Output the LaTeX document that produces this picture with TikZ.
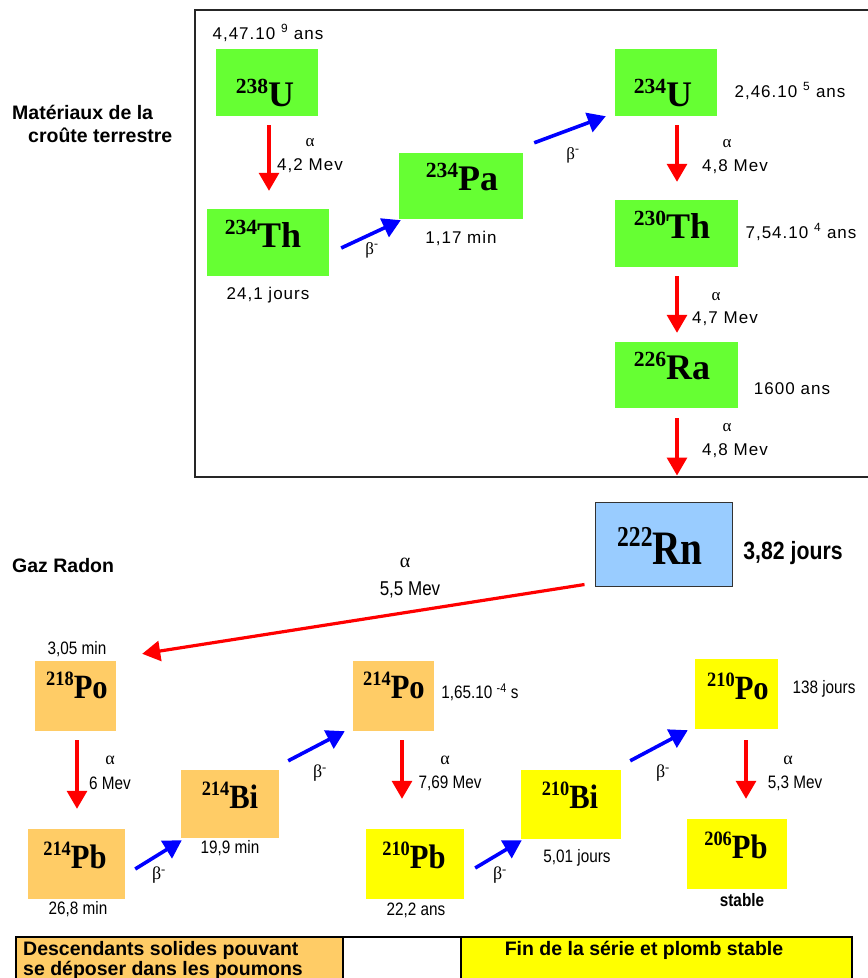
\documentclass[tikz,border=0pt]{standalone}
\usepackage{fontspec}
\setmainfont{Liberation Sans}
\newfontfamily\narrowfont{Liberation Sans}[FakeStretch=0.85]
\newfontfamily\spacedfont{Liberation Sans}[LetterSpace=6]
\newfontfamily\isofont{Liberation Serif}
\newfontfamily\isonarrow{Liberation Serif}[FakeStretch=0.9]
\newfontfamily\rnfont{Liberation Serif}[FakeStretch=0.82]
\usetikzlibrary{arrows.meta}
\definecolor{isogreen}{HTML}{66FF33}
\definecolor{isoorange}{HTML}{FFCC66}
\definecolor{isoyellow}{HTML}{FFFF00}
\definecolor{rnblue}{HTML}{99CCFF}
\newcommand{\nuc}[2]{\raisebox{.36em}{\scalebox{.6}{#1}}#2}
\newcommand{\alp}{{\isofont α}}
\newcommand{\bet}{{\isofont β\textsuperscript{-}}}

\begin{document}
\begin{tikzpicture}[x=1pt,y=-1pt,
    isobox/.style={inner sep=0pt},
    iso/.style={inner sep=0pt, anchor=base, font=\isofont\bfseries\fontsize{36}{36}\selectfont},
    isolow/.style={inner sep=0pt, anchor=base, font=\isonarrow\bfseries\fontsize{34}{34}\selectfont},
    lbl/.style={inner sep=0pt, font=\spacedfont\fontsize{17}{19}\selectfont},
    lbllow/.style={inner sep=0pt, font=\narrowfont\fontsize{18}{20}\selectfont},
    head/.style={inner sep=0pt, anchor=base west, font=\bfseries\fontsize{19.5}{23}\selectfont},
    adecay/.style={draw=red, line width=3.2pt, -{Triangle[length=18pt,width=20pt]}, shorten <=9pt},
    bdecay/.style={draw=blue, line width=3.6pt, -{Triangle[length=18pt,width=20pt]}}]
\useasboundingbox (0,0) rectangle (868,978);
\clip (0,0) rectangle (868,978);

% earth crust frame
\draw[line width=1.4pt, black!85] (195,10) rectangle (870,477);

% boxes
\foreach \name/\x/\y/\w/\h/\col in {
    u238/267/82.5/102/67/isogreen,
    th234/268/242.5/122/67/isogreen,
    pa234/461/186/124/66/isogreen,
    u234/666/82.5/102/67/isogreen,
    th230/676.5/233.5/123/67/isogreen,
    ra226/676.5/375/123/66/isogreen,
    po218/75.5/696/81/70/isoorange,
    bi214/230/804/98/68/isoorange,
    po214/393.5/696/81/70/isoorange,
    pb214/76.5/864/97/70/isoorange,
    pb210/415/864/98/70/isoyellow,
    bi210/571/804.5/100/69/isoyellow,
    po210/736.5/694/83/70/isoyellow,
    pb206/737/854/100/70/isoyellow}
  \node[isobox, fill=\col, minimum width=\w pt, minimum height=\h pt] (\name) at (\x,\y) {};
\node[isobox, fill=rnblue, draw=black!80, line width=1pt, minimum width=137pt, minimum height=84pt] (rn222) at (663.5,544) {};

% isotope names
\foreach \x/\y/\m/\el in {265/106/238/U, 263/247/234/Th, 462/190/234/Pa,
    663/106/234/U, 672/238/230/Th, 672/379/226/Ra}
  \node[iso] (n\m\el) at (\x,\y) {\nuc{\m}{\el}};
\foreach \x/\y/\m/\el in {77/698/218/Po, 230/808/214/Bi, 394/698/214/Po,
    75/868/214/Pb, 414/868/210/Pb, 570/808/210/Bi, 738/699/210/Po, 736/858/206/Pb}
  \node[isolow] (n\m\el) at (\x,\y) {\nuc{\m}{\el}};
\node[inner sep=0pt, anchor=base, font=\rnfont\bfseries\fontsize{48}{48}\selectfont] (n222Rn) at (660,564) {\nuc{222}{Rn}};

% alpha decays
\draw[adecay, shorten >=18pt] ([xshift=2pt]u238.south) -- ([xshift=1pt]th234.north);
\draw[adecay, shorten >=18pt] ([xshift=11pt]u234.south) -- ([xshift=.5pt]th230.north);
\draw[adecay, shorten >=9pt] ([xshift=.5pt]th230.south) -- ([xshift=.5pt]ra226.north);
\draw[adecay, shorten <=10pt, shorten >=26pt] ([xshift=.5pt]ra226.south) -- ([xshift=13.5pt]rn222.north);
\draw[adecay, shorten <=0pt] ([shift={(-10pt,2pt)}]rn222.south west) -- ([shift={(26pt,7pt)}]po218.north east);
\draw[adecay, shorten >=20pt] ([xshift=1.5pt]po218.south) -- ([xshift=.5pt]pb214.north);
\draw[adecay, shorten >=30pt] ([xshift=8.5pt]po214.south) -- ([xshift=-13pt]pb210.north);
\draw[adecay, shorten <=11pt, shorten >=20pt] ([xshift=9.5pt]po210.south) -- ([xshift=9pt]pb206.north);

% beta decays
\draw[bdecay] ([shift={(12pt,-5.5pt)}]th234.east) -- ([shift={(2pt,-1pt)}]pa234.south west);
\draw[bdecay] ([shift={(11pt,10pt)}]pa234.north east) -- ([xshift=-9pt]u234.south west);
\draw[bdecay] ([shift={(10pt,-5pt)}]pb214.east) -- ([shift={(1pt,-2pt)}]bi214.south west);
\draw[bdecay] ([shift={(9pt,9pt)}]bi214.north east) -- ([xshift=-8pt]po214.south west);
\draw[bdecay] ([shift={(11pt,-4pt)}]pb210.east) -- ([shift={(1pt,-1pt)}]bi210.south west);
\draw[bdecay] ([shift={(9pt,9pt)}]bi210.north east) -- ([shift={(-7pt,-1pt)}]po210.south west);

% decay labels
\node[lbl] (a1) at (310,143) {\alp};
\node[lbl] (e1) at (310,166) {4,2 Mev};
\node[lbl] (b1) at (372,250) {\bet};
\node[lbl] (b2) at (573,155) {\bet};
\node[lbl] (a2) at (727,144) {\alp};
\node[lbl] (e2) at (735,167) {4,8 Mev};
\node[lbl] (a3) at (716,297) {\alp};
\node[lbl] (e3) at (725,319) {4,7 Mev};
\node[lbl] (a4) at (727,428) {\alp};
\node[lbl] (e4) at (735,451) {4,8 Mev};
\node[lbllow, font=\narrowfont\fontsize{20}{22}\selectfont] (a5) at (405,563) {\alp};
\node[lbllow, font=\narrowfont\fontsize{20}{22}\selectfont] (e5) at (410,590) {5,5 Mev};
\node[lbllow] (a6) at (110,760) {\alp};
\node[lbllow] (e6) at (110,783) {6 Mev};
\node[lbllow] (b3) at (159,875) {\bet};
\node[lbllow] (b4) at (320,773) {\bet};
\node[lbllow] (a7) at (445,760) {\alp};
\node[lbllow] (e7) at (450,783) {7,69 Mev};
\node[lbllow] (b5) at (500,875) {\bet};
\node[lbllow] (b6) at (663,773) {\bet};
\node[lbllow] (a8) at (788,760) {\alp};
\node[lbllow] (e8) at (795,783) {5,3 Mev};

% half-lives
\node[lbl] (t1) at (268,33) {4,47.10 \textsuperscript{9} ans};
\node[lbl] (t2) at (268,295) {24,1 jours};
\node[lbl] (t3) at (461,238) {1,17 min};
\node[lbl] (t4) at (790,91) {2,46.10 \textsuperscript{5} ans};
\node[lbl] (t5) at (801,232) {7,54.10 \textsuperscript{4} ans};
\node[lbl] (t6) at (792,389) {1600 ans};
\node[inner sep=0pt, font=\narrowfont\bfseries\fontsize{25}{27}\selectfont] (t7) at (793,553) {3,82 jours};
\node[lbllow] (t8) at (77,649) {3,05 min};
\node[lbllow] (t9) at (78,909) {26,8 min};
\node[lbllow] (t10) at (230,848) {19,9 min};
\node[lbllow] (t11) at (480,692) {1,65.10 \textsuperscript{-4} s};
\node[lbllow] (t12) at (416,910) {22,2 ans};
\node[lbllow] (t13) at (577,858) {5,01 jours};
\node[lbllow] (t14) at (824,689) {138 jours};
\node[lbllow, font=\narrowfont\bfseries\fontsize{18}{20}\selectfont] (t15) at (742,900) {stable};

% headings
\node[head] (mat1) at (12,119) {Matériaux de la};
\node[head] (mat2) at (28,142) {croûte terrestre};
\node[head] (gaz) at (12,572) {Gaz Radon};

% legend
\draw[line width=1.2pt, fill=isoorange] (16,937) rectangle (343,1000);
\draw[line width=1.2pt] (343,937) rectangle (461,1000);
\draw[line width=1.2pt, fill=isoyellow] (461,937) rectangle (852,1000);
\node[head] (leg1) at (23,955) {Descendants solides pouvant};
\node[head] (leg2) at (23,975) {se déposer dans les poumons};
\node[head, anchor=base] (leg3) at (644,955) {Fin de la série et plomb stable};
\end{tikzpicture}
\end{document}
